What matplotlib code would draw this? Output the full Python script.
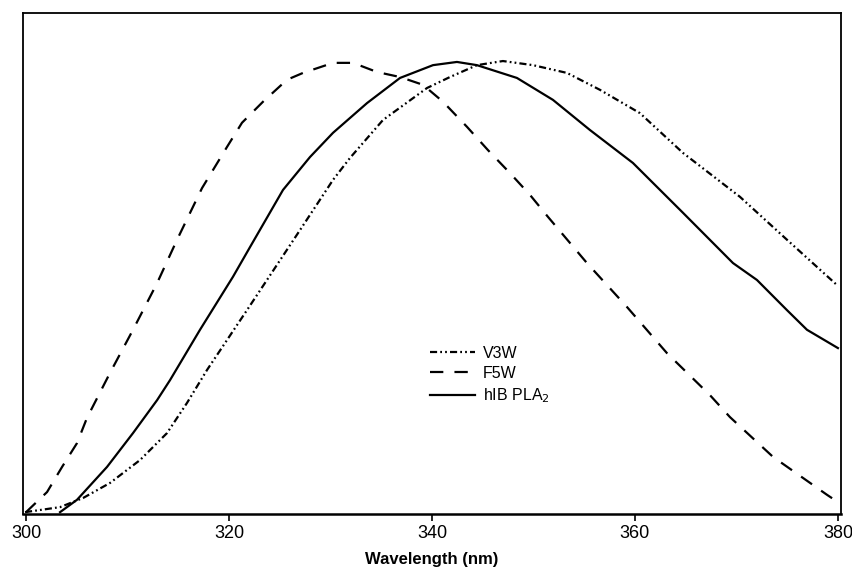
import matplotlib
matplotlib.use("Agg")
import matplotlib.pyplot as plt

plt.rcParams['font.family'] = ['Liberation Sans', 'DejaVu Sans']

# emission spectra (wavelength in nm, intensity in arbitrary units)
v3w_nm = [299.9, 303.35, 305.62, 308.28, 311.23, 313.89, 315.86, 317.83, 321.77, 323.74,
          326.99, 330.25, 331.92, 335.17, 339.51, 341.77, 344.43, 346.99, 349.95, 353.30,
          356.55, 360.49, 364.73, 370.34, 374.98, 380.0]
v3w_int = [0.4, 1.5, 3.5, 6.8, 11.8, 17.7, 24.3, 31.5, 44.6, 51.2,
           62.1, 73.1, 77.9, 86.2, 93.2, 95.6, 98.2, 99.1, 98.2, 96.5,
           92.8, 87.7, 79.0, 69.4, 60.0, 49.9]

f5w_nm = [300.0, 302.07, 303.55, 305.02, 306.0, 308.28, 310.54, 312.91, 314.88, 317.34,
          319.80, 321.28, 323.35, 325.71, 327.29, 330.25, 332.22, 334.58, 336.85, 339.11,
          341.08, 343.45, 345.52, 347.68, 349.66, 351.43, 355.27, 359.21, 363.15, 367.39,
          369.36, 373.60, 378.92, 380.0]
f5w_int = [0.4, 4.8, 10.3, 15.5, 21.0, 30.9, 40.3, 50.5, 60.0, 71.3,
           80.3, 85.6, 90.2, 95.0, 96.5, 98.7, 98.7, 96.7, 95.6, 93.9,
           90.2, 84.7, 79.6, 74.6, 69.8, 65.0, 54.9, 45.3, 35.2, 26.0,
           21.2, 12.5, 4.2, 2.6]

hib_nm = [303.35, 305.02, 307.98, 310.54, 312.91, 314.19, 317.14, 320.39, 322.07, 325.32,
          327.98, 330.25, 333.60, 336.85, 340.10, 342.46, 344.43, 348.37, 351.92, 355.57,
          359.80, 364.73, 369.66, 372.02, 374.98, 376.95, 380.0]
hib_int = [0.4, 3.1, 10.3, 17.7, 24.9, 29.3, 40.3, 51.9, 58.4, 70.9,
           78.1, 83.4, 89.9, 95.4, 98.2, 98.9, 98.2, 95.4, 90.6, 84.0,
           76.8, 65.9, 54.9, 51.2, 44.6, 40.3, 36.3]

xticks = [300, 320, 340, 360, 380]

fig = plt.figure(figsize=(8.52, 5.67), dpi=100)
ax = fig.add_axes([0.027, 0.0935, 0.9597, 0.8835])

# dash-dot-dot, dashed and solid lines as in the original
ax.plot(v3w_nm, v3w_int, color='black', lw=1.6,
        linestyle=(0, (3.2, 1.4, 0.8, 1.4, 0.8, 1.4)), label='V3W')
ax.plot(f5w_nm, f5w_int, color='black', lw=1.6,
        linestyle=(0, (6, 5)), label='F5W')
ax.plot(hib_nm, hib_int, color='black', lw=1.6, label='hIB PLA$_2$')

ax.set_xlim(299.7, 380.27)
ax.set_ylim(0, 109.6)
ax.set_xticks(xticks)
ax.set_yticks([])
ax.tick_params(axis='x', direction='out', length=5, width=1.2, labelsize=13, pad=3)
for s in ax.spines.values():
    s.set_linewidth(1.3)
ax.spines['bottom'].set_linewidth(1.8)

ax.set_xlabel('Wavelength (nm)', fontsize=12, fontweight='bold', labelpad=7)

ax.legend(loc='upper left', bbox_to_anchor=(0.488, 0.352), frameon=False,
          fontsize=11.5, handlelength=2.8, handletextpad=0.5, labelspacing=0.33,
          borderpad=0)

fig.savefig('out.png', dpi=100)
